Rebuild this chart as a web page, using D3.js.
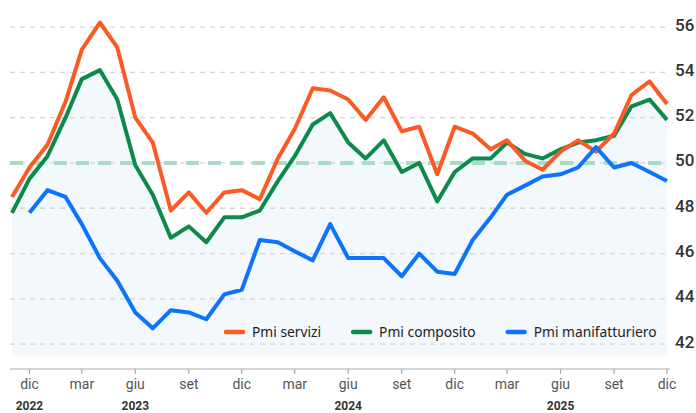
<!DOCTYPE html>
<html>
<head>
<meta charset="utf-8">
<script src="https://cdn.jsdelivr.net/npm/d3@7"></script>
<style>
  body { margin: 0; background: #fff; }
  svg { display: block; }
</style>
</head>
<body>
<div id="main"></div>
<script>
// mesi: da nov 2022 a dic 2025
const firstMonth = new Date(2022, 10, 1);
const lastMonth = new Date(2025, 11, 1);
const months = d3.timeMonth.range(firstMonth, d3.timeMonth.offset(lastMonth, 1));

const servizi = [48.5, 49.8,
  50.8, 52.7, 55.0, 56.2, 55.1, 52.0, 50.9, 47.9, 48.7, 47.8, 48.7, 48.8,
  48.4, 50.2, 51.5, 53.3, 53.2, 52.8, 51.9, 52.9, 51.4, 51.6, 49.5, 51.6,
  51.3, 50.6, 51.0, 50.1, 49.7, 50.5, 51.0, 50.5, 51.3, 53.0, 53.6, 52.6];
const composito = [47.8, 49.3,
  50.3, 52.0, 53.7, 54.1, 52.8, 49.9, 48.6, 46.7, 47.2, 46.5, 47.6, 47.6,
  47.9, 49.2, 50.3, 51.7, 52.2, 50.9, 50.2, 51.0, 49.6, 50.0, 48.3, 49.6,
  50.2, 50.2, 50.9, 50.4, 50.2, 50.6, 50.9, 51.0, 51.2, 52.5, 52.8, 51.9];
const manifatturiero = [null, 47.8,
  48.8, 48.5, 47.3, 45.8, 44.8, 43.4, 42.7, 43.5, 43.4, 43.1, 44.2, 44.4,
  46.6, 46.5, 46.1, 45.7, 47.3, 45.8, 45.8, 45.8, 45.0, 46.0, 45.2, 45.1,
  46.6, 47.6, 48.6, 49.0, 49.4, 49.5, 49.8, 50.7, 49.8, 50.0, 49.6, 49.2];

const seriesNames = ['Pmi servizi', 'Pmi composito', 'Pmi manifatturiero'];
const seriesColors = ['#fc5a24', '#0b8a4b', '#0d73fb'];
const yTicks = [42, 44, 46, 48, 50, 52, 54, 56];
const monthNames = ['gen', 'feb', 'mar', 'apr', 'mag', 'giu', 'lug', 'ago', 'set', 'ott', 'nov', 'dic'];
const yearLabels = [
  {date: new Date(2022, 11, 1), label: '2022'},
  {date: new Date(2023, 5, 1), label: '2023'},
  {date: new Date(2024, 5, 1), label: '2024'},
  {date: new Date(2025, 5, 1), label: '2025'}
];

const width = 696, height = 413;

const x = d3.scaleTime()
    .domain([firstMonth, lastMonth])
    .range([12, 667]);

const y = d3.scaleLinear()
    .domain([41.5, 57])
    .range([355.5, 4.4]);

const svg = d3.select('#main').append('svg')
    .attr('width', width)
    .attr('height', height);

// area sotto il composito
const area = d3.area()
    .x((d, i) => x(months[i]))
    .y0(y(41.5))
    .y1(d => y(d));

svg.append('path')
    .datum(composito)
    .attr('d', area)
    .attr('fill', '#f3f8fd');

// griglia
svg.append('g')
  .selectAll('line')
  .data(yTicks)
  .join('line')
    .attr('x1', 10)
    .attr('x2', 670)
    .attr('y1', d => y(d))
    .attr('y2', d => y(d))
    .attr('stroke', '#d4d4d4')
    .attr('stroke-width', 1.3)
    .attr('stroke-dasharray', '5,5');

svg.append('g')
  .selectAll('text')
  .data(yTicks)
  .join('text')
    .attr('x', 675)
    .attr('y', d => y(d) + 3.5)
    .attr('font-family', 'Roboto, sans-serif')
    .attr('font-weight', 500)
    .attr('font-size', 17)
    .attr('fill', '#333')
    .text(d => d);

// soglia 50
svg.append('line')
    .attr('x1', 10)
    .attr('x2', 670)
    .attr('y1', y(50))
    .attr('y2', y(50))
    .attr('stroke', '#a9dcc7')
    .attr('stroke-width', 4)
    .attr('stroke-dasharray', '13,9');

// asse x: tick trimestrali (mar, giu, set, dic)
const xTicks = months.filter(d => d.getMonth() % 3 === 2);
const xAxis = svg.append('g');

xAxis.append('line')
    .attr('x1', 10)
    .attr('x2', 670)
    .attr('y1', 369)
    .attr('y2', 369)
    .attr('stroke', '#aaa')
    .attr('stroke-width', 1.2);

xAxis.selectAll('.tick')
  .data(xTicks)
  .join('g')
    .attr('class', 'tick')
    .attr('transform', d => `translate(${x(d)},0)`)
    .call(g => g.append('line')
        .attr('y1', 369)
        .attr('y2', 374)
        .attr('stroke', '#aaa')
        .attr('stroke-width', 1.2))
    .call(g => g.append('text')
        .attr('y', 389)
        .attr('text-anchor', 'middle')
        .attr('font-family', 'Roboto, sans-serif')
        .attr('font-size', 14)
        .attr('fill', '#555')
        .text(d => monthNames[d.getMonth()]));

xAxis.selectAll('.year')
  .data(yearLabels)
  .join('text')
    .attr('class', 'year')
    .attr('x', d => x(d.date))
    .attr('y', 410)
    .attr('text-anchor', 'middle')
    .attr('font-family', 'Roboto, sans-serif')
    .attr('font-weight', 700)
    .attr('font-size', 12)
    .attr('fill', '#333')
    .text(d => d.label);

// linee
const line = d3.line()
    .defined(d => d !== null)
    .x((d, i) => x(months[i]))
    .y(d => y(d));

const drawOrder = [1, 0, 2];
const allSeries = [servizi, composito, manifatturiero];

svg.append('g')
  .selectAll('path')
  .data(drawOrder)
  .join('path')
    .attr('d', k => line(allSeries[k]))
    .attr('fill', 'none')
    .attr('stroke', k => seriesColors[k])
    .attr('stroke-width', 4)
    .attr('stroke-linejoin', 'round');

// legenda
const legend = svg.append('g')
    .attr('transform', 'translate(224,332)');

let lx = 0;
seriesNames.forEach((name, i) => {
  const item = legend.append('g').attr('transform', `translate(${lx},0)`);
  item.append('line')
      .attr('x1', 2)
      .attr('x2', 19)
      .attr('stroke', seriesColors[i])
      .attr('stroke-width', 4.5)
      .attr('stroke-linecap', 'round');
  const t = item.append('text')
      .attr('x', 28)
      .attr('y', 5)
      .attr('font-family', '"Noto Sans", sans-serif')
      .attr('font-size', 13.8)
      .attr('fill', '#222')
      .text(name);
  lx += 28 + t.node().getComputedTextLength() + 30;
});
</script>
</body>
</html>
